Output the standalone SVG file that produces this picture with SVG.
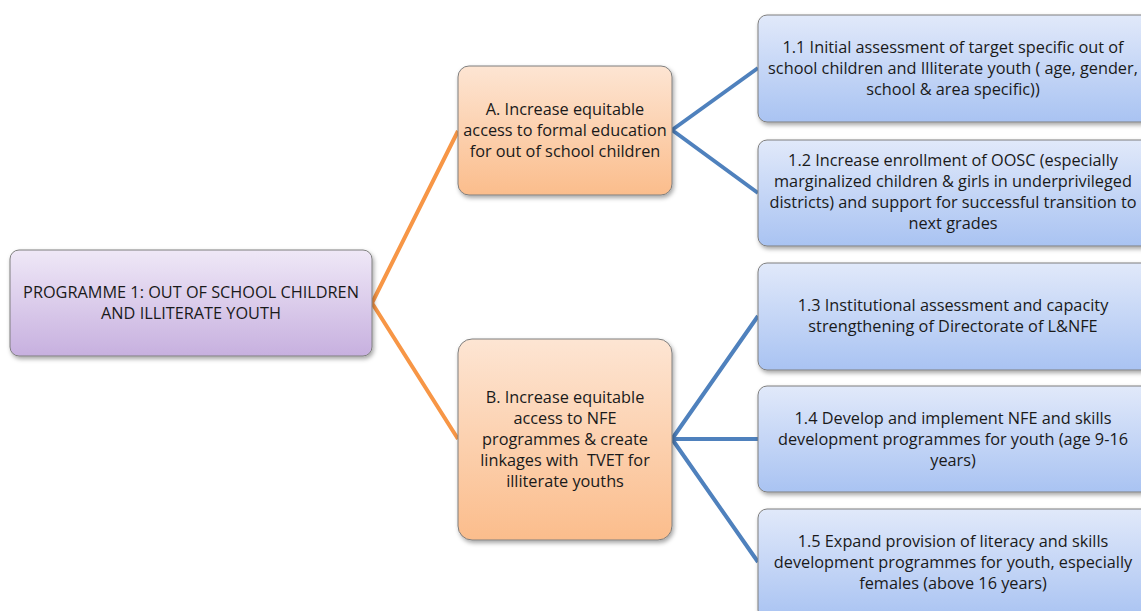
<svg xmlns="http://www.w3.org/2000/svg" width="1141" height="611" viewBox="0 0 1141 611">
  <defs>
    <linearGradient id="gPurple" x1="0" y1="0" x2="0" y2="1">
      <stop offset="0" stop-color="#efe8f7"/>
      <stop offset="1" stop-color="#c7b0df"/>
    </linearGradient>
    <linearGradient id="gOrange" x1="0" y1="0" x2="0" y2="1">
      <stop offset="0" stop-color="#fde5d3"/>
      <stop offset="1" stop-color="#fbbd8c"/>
    </linearGradient>
    <linearGradient id="gBlue" x1="0" y1="0" x2="0" y2="1">
      <stop offset="0" stop-color="#e1e9fa"/>
      <stop offset="1" stop-color="#a9c3f2"/>
    </linearGradient>
    <filter id="shadow" x="-10%" y="-10%" width="130%" height="140%">
      <feDropShadow dx="1.5" dy="2.5" stdDeviation="2" flood-color="#000" flood-opacity="0.35"/>
    </filter>
  </defs>
  <style>
    .box { stroke: #7f7f7f; stroke-width: 1; filter: url(#shadow); }
    .root { fill: url(#gPurple); }
    .goal { fill: url(#gOrange); }
    .act { fill: url(#gBlue); }
    text { font-family: "Open Sans", "Liberation Sans", sans-serif; font-size: 16.3px; fill: #1a1a1a; text-anchor: middle; }
    .orange { stroke: #f79646; stroke-width: 4; fill: none; }
    .blue { stroke: #4f81bd; stroke-width: 4; fill: none; }
  </style>
  <rect width="1141" height="611" fill="#ffffff"/>

  <g id="connectors">
    <path class="orange" d="M372,303 L458,131 M372,303 L458,439"/>
    <path class="blue" d="M672,130 L758,68 M672,130 L758,193"/>
    <path class="blue" d="M672,439 L758,316 M672,439 L758,439 M672,439 L758,562"/>
  </g>

  <g id="programme">
    <rect class="box root" x="10" y="250" width="362" height="106" rx="9"/>
    <text x="191" y="298">PROGRAMME 1: OUT OF SCHOOL CHILDREN</text>
    <text x="191" y="319">AND ILLITERATE YOUTH</text>
  </g>

  <g id="goal-a">
    <rect class="box goal" x="458" y="66" width="214" height="129" rx="11"/>
    <text x="565" y="115">A. Increase equitable</text>
    <text x="565" y="136">access to formal education</text>
    <text x="565" y="157">for out of school children</text>
  </g>

  <g id="goal-b">
    <rect class="box goal" x="458" y="339" width="214" height="201" rx="14"/>
    <text x="565" y="403">B. Increase equitable</text>
    <text x="565" y="424">access to NFE</text>
    <text x="565" y="445">programmes &amp; create</text>
    <text x="565" y="466" xml:space="preserve">linkages with  TVET for</text>
    <text x="565" y="487">illiterate youths</text>
  </g>

  <g id="activity-1-1">
    <rect class="box act" x="758" y="15" width="392" height="107" rx="9"/>
    <text x="953" y="53">1.1 Initial assessment of target specific out of</text>
    <text x="953" y="74">school children and Illiterate youth ( age, gender,</text>
    <text x="953" y="95">school &amp; area specific))</text>
  </g>

  <g id="activity-1-2">
    <rect class="box act" x="758" y="140" width="392" height="106" rx="9"/>
    <text x="953" y="166">1.2 Increase enrollment of OOSC (especially</text>
    <text x="953" y="187">marginalized children &amp; girls in underprivileged</text>
    <text x="953" y="208">districts) and support for successful transition to</text>
    <text x="953" y="229">next grades</text>
  </g>

  <g id="activity-1-3">
    <rect class="box act" x="758" y="263" width="392" height="107" rx="9"/>
    <text x="953" y="311">1.3 Institutional assessment and capacity</text>
    <text x="953" y="332">strengthening of Directorate of L&amp;NFE</text>
  </g>

  <g id="activity-1-4">
    <rect class="box act" x="758" y="386" width="392" height="106" rx="9"/>
    <text x="953" y="424">1.4 Develop and implement NFE and skills</text>
    <text x="953" y="445">development programmes for youth (age 9-16</text>
    <text x="953" y="466">years)</text>
  </g>

  <g id="activity-1-5">
    <rect class="box act" x="758" y="509" width="392" height="110" rx="9"/>
    <text x="953" y="547">1.5 Expand provision of literacy and skills</text>
    <text x="953" y="568">development programmes for youth, especially</text>
    <text x="953" y="589">females (above 16 years)</text>
  </g>
</svg>
